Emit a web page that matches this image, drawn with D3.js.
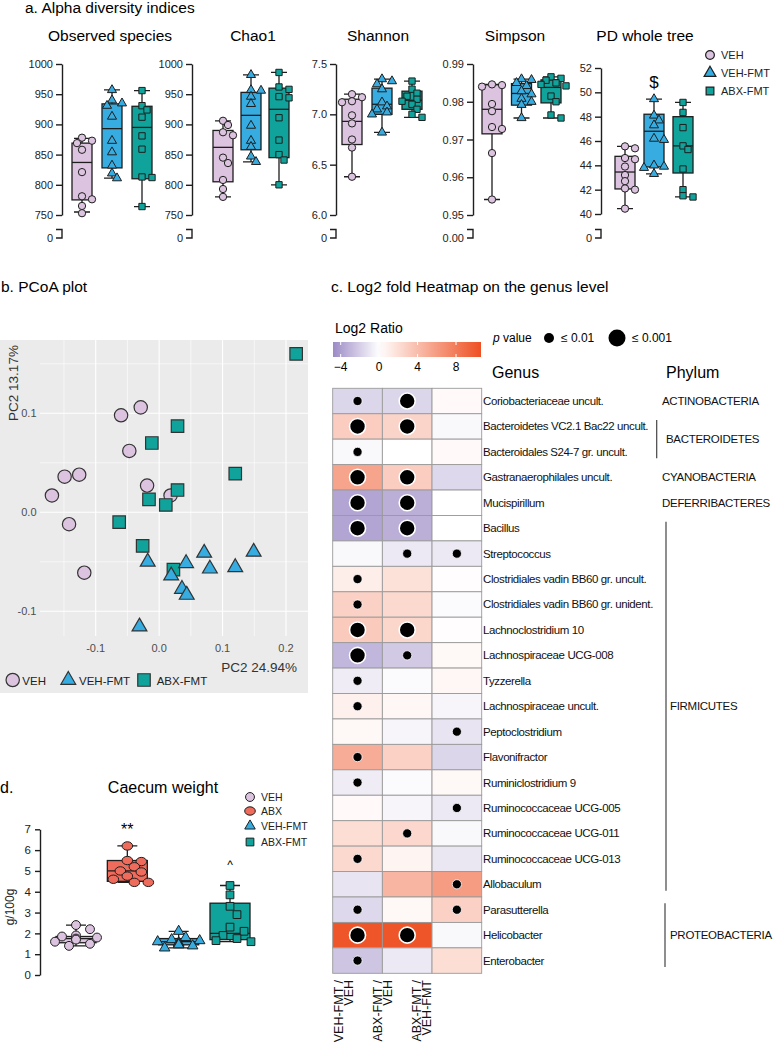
<!DOCTYPE html>
<html>
<head>
<meta charset="utf-8">
<script src="https://cdn.jsdelivr.net/npm/d3@7"></script>
<style>
  body { margin: 0; background: #fff; }
  svg { display: block; font-family: "Liberation Sans", Arial, Helvetica, sans-serif; }
</style>
</head>
<body>
<svg id="svg" width="777" height="1052"></svg>
<script>
// groups used in a and b
const groups = ['VEH', 'VEH-FMT', 'ABX-FMT']
const groupColours = ['#dcc3df', '#36ace1', '#10a39b']
const groupShapes = [d3.symbolCircle, d3.symbolTriangle, d3.symbolSquare]

// a. alpha diversity, box stats are [min, q1, median, q3, max]
const observedTicks = [750, 800, 850, 900, 950, 1000]
const observedStats = [[755, 775, 837, 869, 877], [811, 828, 893, 934, 957], [764, 810, 895, 930, 956]]
const observedPoints = [
  [878, 873, 869, 858, 821, 781, 776, 765, 753],
  [957, 940, 935, 931, 913, 873, 854, 832, 819, 811],
  [956, 931, 924, 912, 881, 859, 813, 812, 764]
]
const chaoTicks = [750, 800, 850, 900, 950, 1000]
const chaoStats = [[780, 805, 862, 890, 906], [838, 858, 915, 953, 982], [800, 845, 925, 960, 986]]
const chaoPoints = [
  [906, 899, 887, 882, 845, 836, 808, 793, 780],
  [982, 957, 956, 946, 934, 898, 873, 863, 847, 838],
  [986, 962, 958, 946, 944, 911, 874, 850, 841, 800]
]
const shannonTicks = [6.0, 6.5, 7.0, 7.5]
const shannonStats = [[6.38, 6.7, 6.93, 7.15, 7.2], [6.82, 7.0, 7.1, 7.26, 7.35], [6.97, 7.05, 7.14, 7.23, 7.33]]
const shannonPoints = [
  [7.2, 7.17, 7.13, 7.12, 6.99, 6.91, 6.75, 6.67, 6.38],
  [7.35, 7.33, 7.3, 7.25, 7.12, 7.08, 7.05, 7.02, 7.0, 6.82],
  [7.33, 7.25, 7.21, 7.18, 7.15, 7.13, 7.1, 7.05, 7.0, 6.97]
]
const simpsonTicks = [0.95, 0.96, 0.97, 0.98, 0.99]
const simpsonStats = [[0.9541, 0.9715, 0.978, 0.9845, 0.9846], [0.9757, 0.9791, 0.9822, 0.9848, 0.986], [0.9757, 0.9797, 0.9838, 0.9858, 0.9866]]
const simpsonPoints = [
  [0.9846, 0.9844, 0.984, 0.9794, 0.9775, 0.9733, 0.9728, 0.9664, 0.9541],
  [0.986, 0.9858, 0.985, 0.9842, 0.9828, 0.982, 0.9808, 0.98, 0.9792, 0.9757],
  [0.9866, 0.9862, 0.9857, 0.985, 0.9846, 0.9842, 0.9815, 0.98, 0.9765, 0.9757]
]
const pdTicks = [40, 42, 44, 46, 48, 50, 52]
const pdStats = [[40.44, 42.06, 43.45, 44.74, 45.56], [43.3, 43.87, 46.8, 48.2, 49.45], [41.4, 43.37, 45.6, 48.0, 49.17]]
const pdPoints = [
  [45.56, 45.4, 44.6, 44.5, 43.9, 43.2, 42.7, 42.1, 42.0, 40.44],
  [49.45, 48.1, 47.7, 47.3, 46.2, 46.1, 44.0, 43.9, 43.8, 43.3],
  [49.17, 48.35, 47.1, 45.6, 45.3, 43.7, 42.0, 41.5, 41.4]
]

// b. PCoA, [PC1, PC2]
const pcoaVEH = [[-0.169, 0.017], [-0.149, 0.036], [-0.126, 0.038], [-0.142, -0.012], [-0.118, -0.061],
  [-0.060, 0.098], [-0.029, 0.106], [-0.047, 0.062], [-0.019, 0.027], [0.018, 0.017]]
const pcoaVEHFMT = [[-0.018, -0.050], [0.0425, -0.0515], [0.071, -0.041], [0.080, -0.057], [0.120, -0.0556],
  [0.149, -0.040], [0.019, -0.064], [0.036, -0.0775], [0.0435, -0.0835], [-0.031, -0.1155]]
const pcoaABXFMT = [[0.216, 0.160], [0.029, 0.087], [-0.0115, 0.070], [0.120, 0.039], [0.029, 0.0225],
  [-0.016, 0.013], [0.0105, 0.0074], [-0.063, -0.010], [-0.026, -0.034], [0.0225, -0.058]]
const pcoaXTicks = [-0.1, 0.0, 0.1, 0.2]
const pcoaYTicks = [-0.1, 0.0, 0.1]

// c. heatmap
const comparisons = ['VEH-FMT / VEH', 'ABX-FMT / VEH', 'ABX-FMT / VEH-FMT']
const genera = ['Coriobacteriaceae uncult.', 'Bacteroidetes VC2.1 Bac22 uncult.', 'Bacteroidales S24-7 gr. uncult.',
  'Gastranaerophilales uncult.', 'Mucispirillum', 'Bacillus', 'Streptococcus', 'Clostridiales vadin BB60 gr. uncult.',
  'Clostridiales vadin BB60 gr. unident.', 'Lachnoclostridium 10', 'Lachnospiraceae UCG-008', 'Tyzzerella',
  'Lachnospiraceae uncult.', 'Peptoclostridium', 'Flavonifractor', 'Ruminiclostridium 9', 'Ruminococcaceae UCG-005',
  'Ruminococcaceae UCG-011', 'Ruminococcaceae UCG-013', 'Allobaculum', 'Parasutterella', 'Helicobacter', 'Enterobacter']
const log2Ratio = [
  [-1.7, -1.7, 0.3], [3.0, 2.6, -0.3], [-0.3, 0, 0.3], [5.5, 3.0, -1.6], [-3.7, -3.3, 0], [-3.7, -3.3, 0],
  [-0.3, -0.9, -0.9], [1.0, 1.8, 0.1], [2.8, 2.3, -0.2], [3.2, 2.5, 0.1], [-3.0, -2.2, 0.4], [-0.8, -0.2, 0.5],
  [0.9, 0.5, -0.4], [0.4, -0.4, -1.1], [5.0, 2.8, -1.7], [-0.8, -0.2, 0.4], [0.3, -0.4, -0.9], [2.0, 2.4, -0.3],
  [2.3, 0.6, -1.0], [-1.1, 4.5, 6.0], [-1.6, 0.4, 2.8], [10.3, 10.3, -0.3], [-2.4, -0.9, 2.0]
]
// 0 = n.s., 1 = p <= 0.01, 2 = p <= 0.001
const pLevel = [
  [1, 2, 0], [2, 2, 0], [1, 0, 0], [2, 2, 0], [2, 2, 0], [2, 2, 0], [0, 1, 1], [1, 0, 0], [1, 0, 0], [2, 2, 0],
  [2, 1, 0], [1, 0, 0], [1, 0, 0], [0, 0, 1], [1, 0, 0], [1, 0, 0], [0, 0, 1], [0, 1, 0], [1, 0, 0], [0, 0, 1],
  [1, 0, 1], [2, 2, 0], [1, 0, 0]
]
const phyla = ['ACTINOBACTERIA', 'BACTEROIDETES', 'CYANOBACTERIA', 'DEFERRIBACTERES', 'FIRMICUTES', 'PROTEOBACTERIA']
const phylumRows = [[0, 0], [1, 2], [3, 3], [4, 4], [5, 19], [20, 22]]
const colourTicks = [-4, 0, 4, 8]

// d. caecum weight
const caecumGroups = ['VEH', 'ABX', 'VEH-FMT', 'ABX-FMT']
const caecumColours = ['#dcc3df', '#ef6b5b', '#36ace1', '#10a39b']
const caecumTicks = [0, 1, 2, 3, 4, 5, 6, 7]
const caecumStats = [[1.4, 1.55, 1.75, 1.85, 2.4], [4.45, 4.5, 5.0, 5.5, 6.2], [1.3, 1.45, 1.6, 1.75, 2.1], [1.6, 1.7, 2.0, 3.45, 4.3]]
const caecumPoints = [
  [2.4, 2.2, 1.9, 1.85, 1.8, 1.75, 1.7, 1.6, 1.5, 1.4],
  [6.2, 5.5, 5.45, 5.2, 5.0, 4.95, 4.75, 4.6, 4.45, 4.45],
  [2.1, 1.8, 1.7, 1.65, 1.6, 1.55, 1.5, 1.45, 1.4, 1.3],
  [4.3, 3.85, 3.3, 2.9, 2.3, 2.1, 1.9, 1.75, 1.65, 1.6]
]

const svg = d3.select('#svg')
const ink = '#1e1e1e'
const hyphen = f => d => f(d).replace('\u2212', '-')

function drawBox (g, cx, y, s, w, capW, fill) {
  const [lo, q1, med, q3, hi] = s
  g.append('path')
    .attr('d', `M${cx},${y(hi)}V${y(q3)}M${cx},${y(q1)}V${y(lo)}` +
      `M${cx - capW / 2},${y(hi)}H${cx + capW / 2}M${cx - capW / 2},${y(lo)}H${cx + capW / 2}`)
    .attr('stroke', ink).attr('stroke-width', 1.3).attr('fill', 'none')
  g.append('rect')
    .attr('x', cx - w / 2).attr('y', y(q3))
    .attr('width', w).attr('height', y(q1) - y(q3))
    .attr('fill', fill).attr('stroke', ink).attr('stroke-width', 1.3)
  g.append('line')
    .attr('x1', cx - w / 2).attr('x2', cx + w / 2)
    .attr('y1', y(med)).attr('y2', y(med))
    .attr('stroke', ink).attr('stroke-width', 1.3)
}

// simple swarm so overlapping points spread sideways
function dodge (values, y, step, minDist) {
  const placed = []
  return values.map(v => {
    const py = y(v)
    let dx = 0
    for (const k of [0, 1, -1, 2, -2, 3, -3]) {
      if (placed.every(p => Math.hypot(p[0] - k * step, p[1] - py) >= minDist)) { dx = k * step; break }
    }
    placed.push([dx, py])
    return [dx, py]
  })
}

function styleAxis (ag, size) {
  ag.selectAll('path, line').attr('stroke', ink).attr('stroke-width', 1.4)
  ag.selectAll('text').attr('fill', '#222').attr('font-size', size)
    .style('font-family', '"Liberation Sans", Arial, sans-serif')
}

// ---------- a ----------
svg.append('text').attr('x', 25).attr('y', 13).attr('font-size', 15.5).text('a. Alpha diversity indices')

const metrics = [
  { title: 'Observed species', ticks: observedTicks, stats: observedStats, points: observedPoints, fmt: d3.format('d'), zero: '0' },
  { title: 'Chao1', ticks: chaoTicks, stats: chaoStats, points: chaoPoints, fmt: d3.format('d'), zero: '0' },
  { title: 'Shannon', ticks: shannonTicks, stats: shannonStats, points: shannonPoints, fmt: d3.format('.1f'), zero: '0' },
  { title: 'Simpson', ticks: simpsonTicks, stats: simpsonStats, points: simpsonPoints, fmt: d3.format('.2f'), zero: '0.00' },
  { title: 'PD whole tree', ticks: pdTicks, stats: pdStats, points: pdPoints, fmt: d3.format('d'), zero: '0' }
]
const metricLayout = [
  { axisX: 62, boxes: [82, 142], top: 64, bottom: 215, titleX: 110 },
  { axisX: 192, boxes: [223, 279], top: 64, bottom: 215, titleX: 253 },
  { axisX: 336, boxes: [352, 412], top: 64, bottom: 215, titleX: 378 },
  { axisX: 473, boxes: [492, 551], top: 64, bottom: 215, titleX: 515 },
  { axisX: 601, boxes: [625, 683], top: 68, bottom: 214, titleX: 645 }
]
const symSizeA = [42, 36, 40]

metrics.forEach((m, i) => {
  const L = metricLayout[i]
  const y = d3.scaleLinear().domain(d3.extent(m.ticks)).range([L.bottom, L.top])
  const x = d3.scalePoint().domain(groups).range(L.boxes)
  const g = svg.append('g')

  g.append('text').attr('x', L.titleX).attr('y', 41).attr('text-anchor', 'middle')
    .attr('font-size', 15.5).text(m.title)

  const ag = g.append('g').attr('transform', `translate(${L.axisX},0)`)
    .call(d3.axisLeft(y).tickValues(m.ticks).tickFormat(m.fmt).tickSize(6).tickSizeOuter(0).tickPadding(3))
  styleAxis(ag, 11)

  // axis break down to zero
  g.append('path').attr('d', `M${L.axisX - 6},229.5H${L.axisX}V238H${L.axisX - 6}`)
    .attr('stroke', ink).attr('stroke-width', 1.4).attr('fill', 'none')
  g.append('text').attr('x', L.axisX - 9).attr('y', 242).attr('text-anchor', 'end')
    .attr('font-size', 11).attr('fill', '#222').text(m.zero)

  m.stats.forEach((s, j) => drawBox(g, x(groups[j]), y, s, 20, 16, groupColours[j]))
  m.points.forEach((pts, j) => {
    dodge(pts, y, 5, 6).forEach(([dx, py]) => {
      g.append('path')
        .attr('d', d3.symbol().type(groupShapes[j]).size(symSizeA[j])())
        .attr('transform', `translate(${x(groups[j]) + dx},${py})`)
        .attr('fill', groupColours[j]).attr('stroke', ink).attr('stroke-width', 1)
    })
  })
  if (m.title === 'PD whole tree') {
    g.append('text').attr('x', x('VEH-FMT')).attr('y', 88).attr('text-anchor', 'middle')
      .attr('font-size', 17).text('$')
  }
})

// legend a
groups.forEach((gName, j) => {
  const ly = 55 + j * 18
  svg.append('path').attr('d', d3.symbol().type(groupShapes[j]).size(60)())
    .attr('transform', `translate(710,${ly})`)
    .attr('fill', groupColours[j]).attr('stroke', ink).attr('stroke-width', 1.2)
  svg.append('text').attr('x', 721).attr('y', ly + 4).attr('font-size', 11).attr('fill', '#222').text(gName)
})

// ---------- b ----------
svg.append('text').attr('x', 1).attr('y', 292).attr('font-size', 15.5).text('b. PCoA plot')

const px = d3.scaleLinear().domain([-0.1, 0.2]).range([95.7, 286])
const py = d3.scaleLinear().domain([-0.1, 0.1]).range([611.3, 413.3])
const panel = { left: 40, right: 308, top: 340, bottom: 636 }

svg.append('rect').attr('x', 0).attr('y', 340).attr('width', 308).attr('height', 353).attr('fill', '#ebebeb')
const grid = svg.append('g')
const xMinor = d3.range(-0.15, 0.2, 0.1)
const yMinor = d3.range(-0.05, 0.2, 0.1)
grid.selectAll('.vx').data(xMinor).enter().append('line')
  .attr('x1', d => px(d)).attr('x2', d => px(d)).attr('y1', panel.top).attr('y2', panel.bottom)
  .attr('stroke', '#fff').attr('stroke-width', 0.6)
grid.selectAll('.hy').data(yMinor).enter().append('line')
  .attr('y1', d => py(d)).attr('y2', d => py(d)).attr('x1', panel.left).attr('x2', panel.right)
  .attr('stroke', '#fff').attr('stroke-width', 0.6)
grid.selectAll('.vX').data(pcoaXTicks).enter().append('line')
  .attr('x1', d => px(d)).attr('x2', d => px(d)).attr('y1', panel.top).attr('y2', panel.bottom)
  .attr('stroke', '#fff').attr('stroke-width', 1.1)
grid.selectAll('.hY').data(pcoaYTicks).enter().append('line')
  .attr('y1', d => py(d)).attr('y2', d => py(d)).attr('x1', panel.left).attr('x2', panel.right)
  .attr('stroke', '#fff').attr('stroke-width', 1.1)

svg.selectAll('.xl').data(pcoaXTicks).enter().append('text')
  .attr('x', d => px(d)).attr('y', 652).attr('text-anchor', 'middle')
  .attr('font-size', 11).attr('fill', '#4d4d4d').text(hyphen(d3.format('.1f')))
svg.selectAll('.yl').data(pcoaYTicks).enter().append('text')
  .attr('x', 36.5).attr('y', d => py(d) + 4).attr('text-anchor', 'end')
  .attr('font-size', 11).attr('fill', '#4d4d4d').text(hyphen(d3.format('.1f')))
svg.append('text').attr('transform', 'translate(17.5,383) rotate(-90)').attr('text-anchor', 'middle')
  .attr('font-size', 13.5).attr('fill', '#333').text('PC2 13.17%')
svg.append('text').attr('x', 297).attr('y', 672).attr('text-anchor', 'end')
  .attr('font-size', 13.5).attr('fill', '#333').text('PC2 24.94%')

const pcoaSets = [[pcoaVEH, 0], [pcoaABXFMT, 2], [pcoaVEHFMT, 1]]
const symSizeB = [140, 95, 156]
pcoaSets.forEach(([pts, j]) => {
  svg.append('g').selectAll('path').data(pts).enter().append('path')
    .attr('d', d3.symbol().type(groupShapes[j]).size(symSizeB[j])())
    .attr('transform', d => `translate(${px(d[0])},${py(d[1])})`)
    .attr('fill', groupColours[j]).attr('stroke', '#333').attr('stroke-width', 1.2)
})

const legB = [[12.7, 22.3], [68.3, 79], [144, 156.7]]
groups.forEach((gName, j) => {
  svg.append('path').attr('d', d3.symbol().type(groupShapes[j]).size(symSizeB[j])())
    .attr('transform', `translate(${legB[j][0]},680)`)
    .attr('fill', groupColours[j]).attr('stroke', '#333').attr('stroke-width', 1.2)
  svg.append('text').attr('x', legB[j][1]).attr('y', 685).attr('font-size', 11.5).attr('fill', '#222').text(gName)
})

// ---------- c ----------
svg.append('text').attr('x', 331).attr('y', 292).attr('font-size', 15.5).text('c. Log2 fold Heatmap on the genus level')

const colour = d3.scaleLinear().domain([-4.8, 0, 10.6]).range(['#9c8ac6', '#ffffff', '#ee5022'])
  .interpolate(d3.interpolateRgb).clamp(true)
const cbar = d3.scaleLinear().domain([-4.8, 10.6]).range([333, 481])

const grad = svg.append('defs').append('linearGradient').attr('id', 'cgrad')
d3.range(0, 1.0001, 0.05).forEach(t => {
  grad.append('stop').attr('offset', t).attr('stop-color', colour(-4.8 + t * 15.4))
})
svg.append('text').attr('x', 335).attr('y', 333).attr('font-size', 14).text('Log2 Ratio')
svg.append('rect').attr('x', cbar.range()[0]).attr('y', 342).attr('width', cbar.range()[1] - cbar.range()[0])
  .attr('height', 15).attr('fill', 'url(#cgrad)')
colourTicks.forEach(t => {
  svg.append('path').attr('d', `M${cbar(t)},342v3M${cbar(t)},357v-3`).attr('stroke', '#fff').attr('stroke-width', 1)
  svg.append('text').attr('x', cbar(t)).attr('y', 371).attr('text-anchor', 'middle').attr('font-size', 12)
    .text(t < 0 ? '\u2212' + Math.abs(t) : t)
})

// p value legend
const pv = svg.append('text').attr('x', 493).attr('y', 342).attr('font-size', 12)
pv.append('tspan').attr('font-style', 'italic').text('p')
pv.append('tspan').text(' value')
svg.append('circle').attr('cx', 549).attr('cy', 338).attr('r', 5).attr('fill', '#000')
svg.append('text').attr('x', 561).attr('y', 342).attr('font-size', 12).text('\u2264 0.01')
svg.append('circle').attr('cx', 617).attr('cy', 338).attr('r', 8.5).attr('fill', '#000')
svg.append('text').attr('x', 632).attr('y', 342).attr('font-size', 12).text('\u2264 0.001')

svg.append('text').attr('x', 492).attr('y', 378).attr('font-size', 16).text('Genus')
svg.append('text').attr('x', 666).attr('y', 378).attr('font-size', 16).text('Phylum')

const hx = d3.scaleBand().domain(comparisons).range([332.7, 481.7])
const hy = d3.scaleBand().domain(genera).range([388.3, 973.3])

const cells = []
genera.forEach((gen, r) => comparisons.forEach((cmp, c) => {
  cells.push({ gen, cmp, v: log2Ratio[r][c], p: pLevel[r][c] })
}))
const hm = svg.append('g')
hm.selectAll('rect').data(cells).enter().append('rect')
  .attr('x', d => hx(d.cmp)).attr('y', d => hy(d.gen))
  .attr('width', hx.bandwidth()).attr('height', hy.bandwidth())
  .attr('fill', d => colour(d.v)).attr('stroke', '#9a9a9a').attr('stroke-width', 0.9)
hm.selectAll('circle').data(cells.filter(d => d.p > 0)).enter().append('circle')
  .attr('cx', d => hx(d.cmp) + hx.bandwidth() / 2).attr('cy', d => hy(d.gen) + hy.bandwidth() / 2)
  .attr('r', d => d.p === 2 ? 8 : 4.6)
  .attr('fill', '#000').attr('stroke', '#fff').attr('stroke-width', d => d.p === 2 ? 1.6 : 0.8)

hm.selectAll('.gl').data(genera).enter().append('text')
  .attr('x', 483).attr('y', d => hy(d) + hy.bandwidth() / 2 + 4)
  .attr('font-size', 11.5).attr('letter-spacing', -0.4).attr('fill', '#111').text(d => d)

const phylumLabelX = [662, 666, 662, 662, 670, 670]
const phylumLineX = [null, 656.7, null, null, 666, 665]
phyla.forEach((ph, k) => {
  const [a, b] = phylumRows[k]
  const yc = (hy(genera[a]) + hy(genera[b]) + hy.bandwidth()) / 2
  svg.append('text').attr('x', phylumLabelX[k]).attr('y', yc + 4).attr('font-size', 11.5)
    .attr('letter-spacing', -0.3).attr('fill', '#111').text(ph)
  if (b > a) {
    svg.append('line').attr('x1', phylumLineX[k]).attr('x2', phylumLineX[k])
      .attr('y1', hy(genera[a]) + hy.bandwidth() * 0.25).attr('y2', hy(genera[b]) + hy.bandwidth() * 0.75)
      .attr('stroke', '#444').attr('stroke-width', 1.2)
  }
})

const colLabelX = d3.scalePoint().domain(comparisons).range([342.5, 420.5])
comparisons.forEach(cmp => {
  const parts = cmp.split(' / ')
  const lines = [parts[0] + ' /', parts[1]]
  lines.forEach((ln, k) => {
    svg.append('text')
      .attr('transform', `translate(${colLabelX(cmp) + k * 10.5},980) rotate(-90)`)
      .attr('text-anchor', 'end').attr('font-size', 12.5).attr('fill', '#111').text(ln)
  })
})

// ---------- d ----------
svg.append('text').attr('x', 0).attr('y', 793).attr('font-size', 16).text('d.')
svg.append('text').attr('x', 163).attr('y', 793).attr('text-anchor', 'middle').attr('font-size', 16).text('Caecum weight')

const dy = d3.scaleLinear().domain([0, 7]).range([975, 829.3])
const dx = d3.scalePoint().domain(caecumGroups).range([76, 230])
const dg = svg.append('g')
const dax = dg.append('g').attr('transform', 'translate(40,0)')
  .call(d3.axisLeft(dy).tickValues(caecumTicks).tickFormat(d3.format('d')).tickSize(5).tickSizeOuter(0).tickPadding(4))
styleAxis(dax, 11.5)
svg.append('text').attr('transform', 'translate(14,907) rotate(-90)').attr('text-anchor', 'middle')
  .attr('font-size', 12).attr('fill', '#222').text('g/100g')

caecumStats.forEach((s, j) => drawBox(dg, dx(caecumGroups[j]), dy, s, 40, 20, caecumColours[j]))

function caecumMark (sel, j, x, y) {
  if (j === 1) {
    sel.append('ellipse').attr('cx', x).attr('cy', y).attr('rx', 5.3).attr('ry', 4.2)
      .attr('fill', caecumColours[j]).attr('stroke', ink).attr('stroke-width', 1)
  } else {
    const shape = [d3.symbolCircle, null, d3.symbolTriangle, d3.symbolSquare][j]
    const size = [62, 0, 48, 60][j]
    sel.append('path').attr('d', d3.symbol().type(shape).size(size)())
      .attr('transform', `translate(${x},${y})`)
      .attr('fill', caecumColours[j]).attr('stroke', ink).attr('stroke-width', 1)
  }
}
caecumPoints.forEach((pts, j) => {
  dodge(pts, dy, 7, 8.5).forEach(([ox, oy]) => caecumMark(dg, j, dx(caecumGroups[j]) + ox, oy))
})

svg.append('text').attr('x', dx('ABX')).attr('y', 835).attr('text-anchor', 'middle').attr('font-size', 16).text('**')
svg.append('text').attr('x', dx('ABX-FMT')).attr('y', 869).attr('text-anchor', 'middle').attr('font-size', 12).text('^')

caecumGroups.forEach((gName, j) => {
  const ly = [797, 811, 826, 842][j]
  caecumMark(svg, j, 250, ly)
  svg.append('text').attr('x', 261).attr('y', ly + 4).attr('font-size', 10.5).attr('fill', '#222').text(gName)
})
</script>
</body>
</html>
